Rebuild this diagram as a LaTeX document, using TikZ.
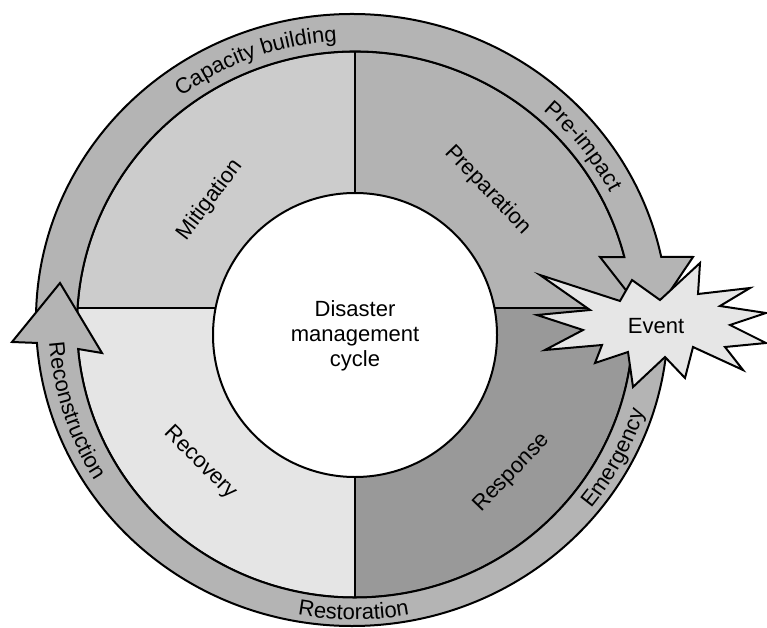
\documentclass[tikz,border=0pt]{standalone}
\usepackage{fontspec}
\setmainfont{Liberation Sans}
\usetikzlibrary{calc,decorations.text}
\definecolor{bandgray}{RGB}{180,180,180}
\definecolor{mitig}{RGB}{204,204,204}
\definecolor{prepc}{RGB}{179,179,179}
\definecolor{recov}{RGB}{229,229,229}
\definecolor{respc}{RGB}{153,153,153}
\definecolor{stargray}{RGB}{230,230,230}
\newcommand\lblsize{\fontsize{22}{25}\selectfont}
\begin{document}
\begin{tikzpicture}[x=1pt,y=1pt,line width=2pt,
  outline/.style={draw=black,line join=miter},
  quadlabel/.style={font=\lblsize,inner sep=0pt}]
\useasboundingbox (0,0) rectangle (767,627);
\coordinate (O) at (352,307);
\coordinate (I) at (355,302.5);
\coordinate (W) at (355,292);
\coordinate (M) at (353.5,304.75);
% quadrants
\begin{scope}
\clip (I) ellipse [x radius=278, y radius=273];
\fill[mitig] (0,319) rectangle (355,627);
\fill[prepc] (355,319) rectangle (767,627);
\fill[recov] (0,0) rectangle (355,319);
\fill[respc] (355,0) rectangle (767,319);
\draw (355,0) -- (355,627);
\draw (0,319) -- (767,319);
\end{scope}
\draw (I) ellipse [x radius=278, y radius=273];
\node[circle,draw,fill=white,minimum size=284pt,inner sep=0pt] (hub) at (W) {};
\node[align=center,font=\lblsize] (title) at (355,291) {Disaster\\management\\cycle};
% top arrow
\draw[outline,fill=bandgray]
 ($(O)+(183:316 and 306)$) arc[start angle=183,end angle=11.9,x radius=316,y radius=306]
 -- (693,370) -- (650,306) -- (600,370)
 -- ($(I)+(14.3:278 and 273)$) arc[start angle=14.3,end angle=182.4,x radius=278,y radius=273]
 -- cycle;
% bottom arrow
\draw[outline,fill=bandgray]
 ($(I)+(1:278 and 273)$) -- ($(O)+(0:316 and 306)$)
 arc[start angle=0,end angle=-175.7,x radius=316,y radius=306]
 -- (12,285) -- (60,344) -- (102,274)
 -- ($(I)+(-174.85:278 and 273)$)
 arc[start angle=-174.85,end angle=1,x radius=278,y radius=273]
 -- cycle;
% event star
\draw[outline,fill=stargray] (540,352) -- (620,326) -- (632,347) -- (660,327) -- (700,364)
 -- (698,333) -- (750,339) -- (720,321) -- (766,314) -- (730,302) -- (766,284)
 -- (725,280) -- (743,257) -- (693,280) -- (685,249) -- (665,270) -- (633,240)
 -- (628,275) -- (595,264) -- (602,282) -- (545,277) -- (583,297) -- (537,312)
 -- (590,317) -- cycle;
\node[font=\lblsize] (event) at (656,301) {Event};
% quadrant labels
\node[quadlabel,rotate=53] (mit) at (210,427) {Mitigation};
\node[quadlabel,rotate=-46] (prep) at (488,437) {Preparation};
\node[quadlabel,rotate=-45] (rec) at (200,164) {Recovery};
\node[quadlabel,rotate=46] (resp) at (512,154) {Response};
% band labels
\path[decorate,decoration={text along path,text align=center,text={|\lblsize|Capacity building}}]
 ($(M)+(140:289 and 281.5)$) arc[start angle=140,end angle=80,x radius=289,y radius=281.5];
\path[decorate,decoration={text along path,text align=center,text={|\lblsize|Pre-impact}}]
 ($(M)+(68:289 and 281.5)$) arc[start angle=68,end angle=8,x radius=289,y radius=281.5];
\path[decorate,decoration={text along path,text align=center,text={|\lblsize|Emergency}}]
 ($(M)+(-58:305 and 297.5)$) arc[start angle=-58,end angle=2,x radius=305,y radius=297.5];
\path[decorate,decoration={text along path,text align=center,text={|\lblsize|Restoration}}]
 ($(M)+(-120:305 and 297.5)$) arc[start angle=-120,end angle=-60,x radius=305,y radius=297.5];
\path[decorate,decoration={text along path,text align=center,text={|\lblsize|Reconstruction}}]
 ($(M)+(168:305 and 297.5)$) arc[start angle=168,end angle=228,x radius=305,y radius=297.5];
\end{tikzpicture}
\end{document}
